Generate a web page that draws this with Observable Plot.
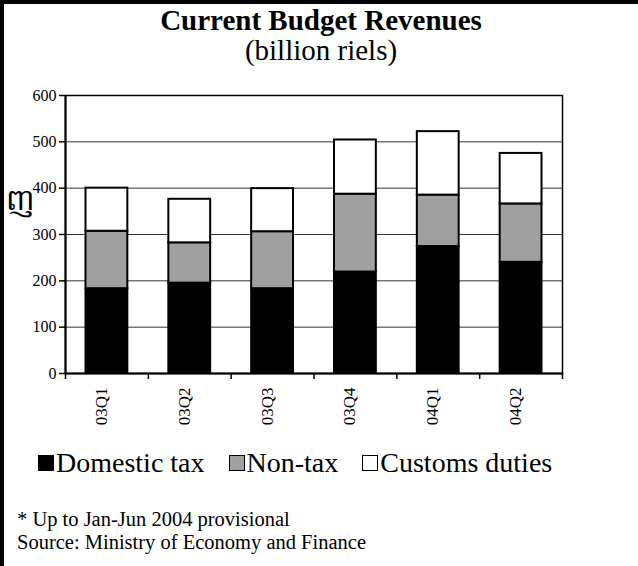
<!DOCTYPE html>
<html><head><meta charset="utf-8">
<script src="https://cdn.jsdelivr.net/npm/d3@7"></script>
<script src="https://cdn.jsdelivr.net/npm/@observablehq/plot@0.6"></script>
<style>
body{margin:0;background:#fff;}
#page{position:relative;width:638px;height:566px;box-sizing:border-box;border-left:4px solid #000;border-top:4px solid #000;font-family:"Liberation Serif","Times New Roman",Times,serif;color:#000;overflow:hidden;}
#title{margin-top:1px;font-weight:bold;font-size:29px;line-height:30px;text-align:center;}
#sub{font-size:29px;line-height:31px;text-align:center;}
#chart svg{display:block;}
#legend{margin-top:19px;padding-left:34px;display:flex;align-items:center;font-size:28px;line-height:30px;white-space:nowrap;}
#legend .item{display:flex;align-items:center;margin-right:24px;}
#legend .sw{width:14px;height:14px;border:1.5px solid #000;margin-right:2px;}
#notes{margin-top:30px;padding-left:13px;font-size:20.5px;line-height:23px;}
</style></head>
<body>
<div id="page">
  <div id="title">Current Budget Revenues</div>
  <div id="sub">(billion riels)</div>
  <div id="chart"></div>
  <div id="legend"></div>
  <div id="notes"><div>* Up to Jan-Jun 2004 provisional</div><div>Source: Ministry of Economy and Finance</div></div>
</div>
<script>
const quarters = ["03Q1","03Q2","03Q3","03Q4","04Q1","04Q2"];
const series = ["Domestic tax","Non-tax","Customs duties"];
const domesticTax = [183, 195, 183, 219, 274, 240];
const nonTax = [124, 87, 123, 168, 111, 126];
const customsDuties = [93, 94, 93, 117, 137, 109];
const colors = ["#000000","#a0a0a0","#ffffff"];
const yTicks = [0,100,200,300,400,500,600];
const gridValues = [100,200,300,400,500];
const yLabel = "ញ";

const valuesBySeries = [domesticTax, nonTax, customsDuties];
const rows = [];
quarters.forEach((q, i) => {
  let base = 0;
  series.forEach((s, k) => {
    const v = valuesBySeries[k][i];
    rows.push({q, i, s, y1: base, y2: base + v});
    base += v;
  });
});

const serif = '"Liberation Serif","Times New Roman",Times,serif';
const chart = Plot.plot({
  width: 634,
  height: 363,
  marginLeft: 61,
  marginRight: 76,
  marginTop: 29,
  marginBottom: 56,
  style: {fontFamily: serif, fontSize: "16px", color: "#000", background: "#fff"},
  x: {domain: [0, quarters.length], axis: null},
  y: {domain: [0, 600], axis: null},
  color: {domain: series, range: colors},
  marks: [
    Plot.ruleY(gridValues, {stroke: "#333", strokeWidth: 1}),
    Plot.frame({stroke: "#000", strokeWidth: 1.5}),
    Plot.rectY(rows, {x1: "i", x2: d => d.i + 1, y1: "y1", y2: "y2", fill: "s", stroke: "#000", strokeWidth: 2, insetLeft: 20.5, insetRight: 20.5}),
    Plot.axisY({ticks: yTicks, tickSize: 6, tickPadding: 3, strokeWidth: 1.5, fontSize: 16, fontFamily: serif, label: null}),
    Plot.axisX({ticks: d3.range(quarters.length + 1), tickFormat: () => "", tickSize: 6, strokeWidth: 1.5, label: null}),
    Plot.text(quarters, {x: (d, i) => i + 0.5, frameAnchor: "bottom", rotate: -90, textAnchor: "end", dy: 14, fontSize: 17, fontFamily: serif}),
    Plot.ruleX([0], {strokeWidth: 2}),
    Plot.ruleY([0], {strokeWidth: 2}),
    Plot.text([yLabel], {frameAnchor: "left", dx: -60, dy: -34, fontSize: 30, fontFamily: '"Noto Sans","DejaVu Sans",serif'})
  ]
});
document.getElementById("chart").appendChild(chart);

const legend = document.getElementById("legend");
series.forEach((s, k) => {
  const item = document.createElement("div");
  item.className = "item";
  const sw = document.createElement("span");
  sw.className = "sw";
  sw.style.background = colors[k];
  const t = document.createElement("span");
  t.textContent = s;
  item.appendChild(sw); item.appendChild(t);
  legend.appendChild(item);
});
</script>
</body></html>
